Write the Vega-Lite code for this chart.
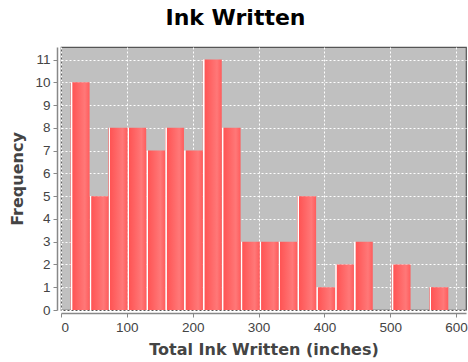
{
  "$schema": "https://vega.github.io/schema/vega-lite/v6.json",
  "width": 405,
  "height": 263,
  "autosize": {"type": "none"},
  "padding": {"left": 61, "top": 47, "right": 2, "bottom": 52},
  "title": {
    "text": "Ink Written",
    "font": "DejaVu Sans",
    "fontSize": 22,
    "fontWeight": "bold",
    "color": "#000000",
    "anchor": "middle",
    "dx": -28,
    "offset": 17
  },
  "data": {
    "values": [
      {"start": 14.7, "end": 43.4, "count": 10},
      {"start": 43.4, "end": 72.0, "count": 5},
      {"start": 72.0, "end": 100.7, "count": 8},
      {"start": 100.7, "end": 129.4, "count": 8},
      {"start": 129.4, "end": 158.1, "count": 7},
      {"start": 158.1, "end": 186.7, "count": 8},
      {"start": 186.7, "end": 215.4, "count": 7},
      {"start": 215.4, "end": 244.1, "count": 11},
      {"start": 244.1, "end": 272.7, "count": 8},
      {"start": 272.7, "end": 301.4, "count": 3},
      {"start": 301.4, "end": 330.1, "count": 3},
      {"start": 330.1, "end": 358.7, "count": 3},
      {"start": 358.7, "end": 387.4, "count": 5},
      {"start": 387.4, "end": 416.1, "count": 1},
      {"start": 416.1, "end": 444.8, "count": 2},
      {"start": 444.8, "end": 473.4, "count": 3},
      {"start": 502.1, "end": 530.8, "count": 2},
      {"start": 559.4, "end": 588.1, "count": 1}
    ]
  },
  "mark": {
    "type": "bar",
    "color": {
      "gradient": "linear",
      "x1": 0, "y1": 0, "x2": 1, "y2": 0,
      "stops": [
        {"offset": 0, "color": "#ff5555"},
        {"offset": 0.03, "color": "#ffffff"},
        {"offset": 0.07, "color": "#ffffff"},
        {"offset": 0.11, "color": "#ff5555"},
        {"offset": 0.75, "color": "#ff7878"},
        {"offset": 1, "color": "#ff5c5c"}
      ]
    }
  },
  "encoding": {
    "x": {
      "field": "start",
      "type": "quantitative",
      "scale": {"domain": [0, 615], "nice": false, "zero": false},
      "axis": {
        "title": "Total Ink Written (inches)",
        "values": [0, 100, 200, 300, 400, 500, 600],
        "offset": 3,
        "titlePadding": 8
      }
    },
    "x2": {"field": "end"},
    "y": {
      "field": "count",
      "type": "quantitative",
      "scale": {"domain": [0, 11.55], "nice": false},
      "axis": {
        "title": "Frequency",
        "values": [0, 1, 2, 3, 4, 5, 6, 7, 8, 9, 10, 11],
        "offset": 4,
        "titlePadding": 9
      }
    },
    "y2": {"datum": 0}
  },
  "config": {
    "view": {"fill": "#c0c0c0", "stroke": "#555555", "strokeWidth": 1.2},
    "axis": {
      "domainColor": "#888888",
      "domainWidth": 1.5,
      "tickColor": "#888888",
      "tickSize": 4,
      "labelFont": "Liberation Sans",
      "labelFontSize": 13.5,
      "labelColor": "#444444",
      "labelPadding": 3,
      "titleFont": "DejaVu Sans",
      "titleFontSize": 16,
      "titleFontWeight": "bold",
      "titleColor": "#444444",
      "gridColor": "#ffffff",
      "gridDash": [2, 2],
      "gridWidth": 1,
      "gridOpacity": 1
    }
  }
}
